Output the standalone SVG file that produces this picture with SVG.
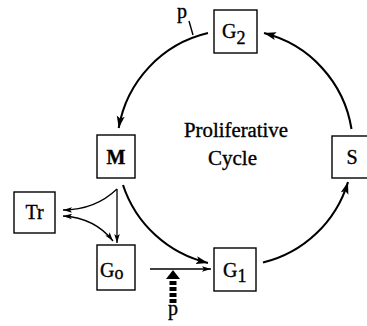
<svg xmlns="http://www.w3.org/2000/svg" width="367" height="326" viewBox="0 0 367 326">
<style>
.box{fill:#fff;stroke:#000;stroke-width:1.4}
.lbl{font-family:"Liberation Serif","DejaVu Serif",serif;font-size:20px;fill:#000;stroke:#000;stroke-width:0.35}
.cyc{fill:none;stroke:#000;stroke-width:2.1}
.thin{fill:none;stroke:#000;stroke-width:1.3}
</style>
<defs>
<marker id="ah" markerUnits="userSpaceOnUse" markerWidth="13" markerHeight="9" refX="12" refY="4" orient="auto">
<path d="M0,0 L12,4 L0,8 L2.5,4 z" fill="#000"/>
</marker>
<marker id="ahs" markerUnits="userSpaceOnUse" markerWidth="10" markerHeight="6" refX="9" refY="2.75" orient="auto">
<path d="M0,0 L9,2.75 L0,5.5 L2,2.75 z" fill="#000"/>
</marker>
<marker id="ahr" markerUnits="userSpaceOnUse" markerWidth="10" markerHeight="6" refX="0" refY="2.75" orient="auto">
<path d="M9,0 L0,2.75 L9,5.5 L7,2.75 z" fill="#000"/>
</marker>
</defs>
<g id="connectors">
<path class="cyc" d="M208,33.1 A118,118 0 0 0 118.7,128" marker-end="url(#ah)"/>
<path class="cyc" d="M123,185 A118,118 0 0 0 208,262.9" marker-end="url(#ah)"/>
<path class="cyc" d="M263,262.6 A118,118 0 0 0 348,182" marker-end="url(#ah)"/>
<path class="cyc" d="M351.5,129 A118,118 0 0 0 264,33.1" marker-end="url(#ah)"/>
<path class="thin" d="M117,189 L117,243" marker-end="url(#ahs)"/>
<path class="thin" d="M117,189 Q95,210 63,210" marker-end="url(#ahs)"/>
<path class="thin" d="M63,216 Q95,218 113,241" marker-start="url(#ahr)" marker-end="url(#ahs)"/>
<path class="thin" d="M150,269 L211,269" marker-end="url(#ahs)"/>
<line x1="189" y1="21" x2="193" y2="35" stroke="#000" stroke-width="1.4"/>
<line x1="173" y1="303" x2="173" y2="278" stroke="#000" stroke-width="7" stroke-dasharray="4,2"/>
<path d="M173,270 L180,279 L166,279 z" fill="#000"/>
</g>
<g id="G2">
<rect class="box" x="214" y="10" width="43" height="43"/>
<text class="lbl" x="222" y="38">G<tspan font-size="18" dy="6">2</tspan></text>
</g>
<g id="M">
<rect class="box" x="97" y="135" width="38" height="43"/>
<text class="lbl" x="116" y="164" text-anchor="middle" font-weight="bold">M</text>
</g>
<g id="Tr">
<rect class="box" x="14" y="192" width="41" height="41"/>
<text class="lbl" x="34.5" y="219" text-anchor="middle">Tr</text>
</g>
<g id="G0">
<rect class="box" x="97" y="245" width="38" height="45"/>
<text class="lbl" x="100" y="277">G<tspan font-size="18" dy="2">o</tspan></text>
</g>
<g id="G1">
<rect class="box" x="214" y="248" width="42" height="43"/>
<text class="lbl" x="223" y="277">G<tspan font-size="18" dy="5">1</tspan></text>
</g>
<g id="S">
<rect class="box" x="332" y="136" width="40" height="42"/>
<text class="lbl" x="352" y="164" text-anchor="middle">S</text>
</g>
<g id="labels">
<text class="lbl" x="184" y="137" textLength="104" lengthAdjust="spacingAndGlyphs" font-size="19" stroke-width="0.25">Proliferative</text>
<text class="lbl" x="208" y="165" textLength="49" lengthAdjust="spacingAndGlyphs" font-size="19" stroke-width="0.25">Cycle</text>
<text class="lbl" x="182" y="18" text-anchor="middle" font-size="17">p</text>
<text class="lbl" x="173" y="315" text-anchor="middle" font-size="18">p</text>
</g>
</svg>
